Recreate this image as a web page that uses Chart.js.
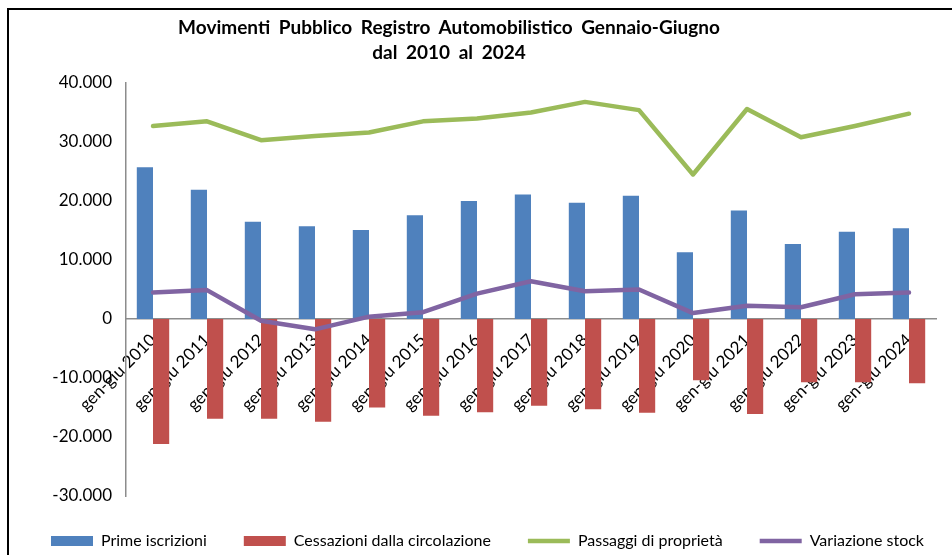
<!DOCTYPE html>
<html>
<head>
<meta charset="utf-8">
<script src="https://cdn.jsdelivr.net/npm/chart.js@4/dist/chart.umd.min.js"></script>
<style>
  html, body { margin: 0; padding: 0; background: #fff; }
  #wrap { position: relative; width: 952px; height: 555px; overflow: hidden; }
  #frame { position: absolute; left: 7px; top: 8px; width: 1000px; height: 600px;
           border-left: 2px solid #000; border-top: 2px solid #000; }
  #title { position: absolute; left: 0; top: 14px; width: 898px; text-align: center;
           font: bold 19px Lato, sans-serif; line-height: 25px; word-spacing: 4px; color: #000; }
  canvas { position: absolute; left: 0; top: 0; }
</style>
</head>
<body>
<div id="wrap">
  <canvas id="chart" width="952" height="555"></canvas>
  <div id="frame"></div>
  <div id="title">Movimenti Pubblico Registro Automobilistico Gennaio-Giugno<br>dal 2010 al 2024</div>
</div>
<script>
// values
const periods = ["gen-giu 2010", "gen-giu 2011", "gen-giu 2012", "gen-giu 2013", "gen-giu 2014",
                 "gen-giu 2015", "gen-giu 2016", "gen-giu 2017", "gen-giu 2018", "gen-giu 2019",
                 "gen-giu 2020", "gen-giu 2021", "gen-giu 2022", "gen-giu 2023", "gen-giu 2024"];
const primeIscrizioni = [25700, 21900, 16500, 15700, 15100, 17600, 20000, 21100, 19700, 20900,
                         11300, 18400, 12700, 14800, 15400];
const cessazioni = [-21200, -16900, -16900, -17400, -15000, -16400, -15800, -14700, -15300, -15900,
                    -10400, -16100, -10700, -10700, -10900];
const passaggi = [32700, 33500, 30300, 31000, 31600, 33500, 34000, 35000, 36800, 35400,
                  24500, 35600, 30800, 32700, 34800];
const variazioneStock = [4500, 4900, -300, -1750, 400, 1150, 4300, 6400, 4700, 5000,
                         1000, 2250, 2000, 4200, 4500];
const yTicks = [-30000, -20000, -10000, 0, 10000, 20000, 30000, 40000];

function fmt(v) {
  const s = Math.abs(v).toString().replace(/\B(?=(\d{3})+(?!\d))/g, ".");
  return (v < 0 ? "-" : "") + s;
}

// keep the legend on one row, in a fixed strip at the bottom
const legendStrip = {
  id: "legendStrip",
  beforeInit(chart) {
    const fit = chart.legend.fit;
    chart.legend.fit = function () {
      this.maxWidth = 952;
      fit.call(this);
      this.height = 59;
    };
  },
  afterLayout(chart) {
    // widen the strip so the last item doesn't wrap
    chart.legend.left = 13;
    chart.legend.right = 962;
  }
};

document.addEventListener("DOMContentLoaded", function () {
  const ctx = document.getElementById("chart").getContext("2d");
  const axisGrey = "#8c8c8c";

  new Chart(ctx, {
    type: "bar",
    data: {
      labels: periods,
      datasets: [
        { label: "Prime iscrizioni", data: primeIscrizioni, backgroundColor: "#4F81BD", order: 2 },
        { label: "Cessazioni dalla circolazione", data: cessazioni, backgroundColor: "#C0504D", order: 2 },
        { type: "line", label: "Passaggi di proprietà", data: passaggi, borderColor: "#9BBB59",
          backgroundColor: "#9BBB59", borderWidth: 4.5, pointRadius: 0, borderCapStyle: "round",
          borderJoinStyle: "round", tension: 0, order: 1 },
        { type: "line", label: "Variazione stock", data: variazioneStock, borderColor: "#8064A2",
          backgroundColor: "#8064A2", borderWidth: 4.5, pointRadius: 0, borderCapStyle: "round",
          borderJoinStyle: "round", tension: 0, order: 1 }
      ]
    },
    plugins: [legendStrip],
    options: {
      responsive: false,
      animation: false,
      layout: { padding: { top: 83, left: 38, right: 16, bottom: 0 } },
      datasets: { bar: { categoryPercentage: 0.6, barPercentage: 1.0 } },
      scales: {
        x: {
          position: { y: 0 },
          grid: { display: false, drawTicks: false },
          border: { display: true, color: axisGrey, width: 1.5 },
          ticks: { minRotation: 45, maxRotation: 45, autoSkip: false, padding: 11,
                   color: "#000", font: { family: "Lato", size: 17 } }
        },
        y: {
          min: -30000, max: 40000,
          afterBuildTicks: axis => { axis.ticks = yTicks.map(v => ({ value: v })); },
          afterFit: axis => { axis.width = 88; },
          grid: { display: false, drawTicks: false },
          border: { display: true, color: axisGrey, width: 1.5 },
          ticks: { padding: 14, color: "#000", font: { family: "Lato", size: 17 },
                   callback: v => fmt(v) }
        }
      },
      plugins: {
        title: { display: false },
        tooltip: { enabled: false },
        legend: {
          position: "bottom",
          labels: {
            color: "#000",
            font: { family: "Lato", size: 16 },
            usePointStyle: true,
            pointStyleWidth: 42,
            boxHeight: 10,
            padding: 37,
            sort: (a, b) => a.datasetIndex - b.datasetIndex,
            generateLabels: function (chart) {
              const items = Chart.defaults.plugins.legend.labels.generateLabels(chart);
              return items.map(item => {
                const ds = chart.data.datasets[item.datasetIndex];
                if (ds.type === "line") {
                  item.pointStyle = "line";
                  item.lineWidth = 4.5;
                  item.strokeStyle = ds.borderColor;
                } else {
                  item.pointStyle = "rect";
                  item.lineWidth = 0;
                  item.fillStyle = ds.backgroundColor;
                }
                return item;
              });
            }
          }
        }
      }
    }
  });
});
</script>
</body>
</html>
